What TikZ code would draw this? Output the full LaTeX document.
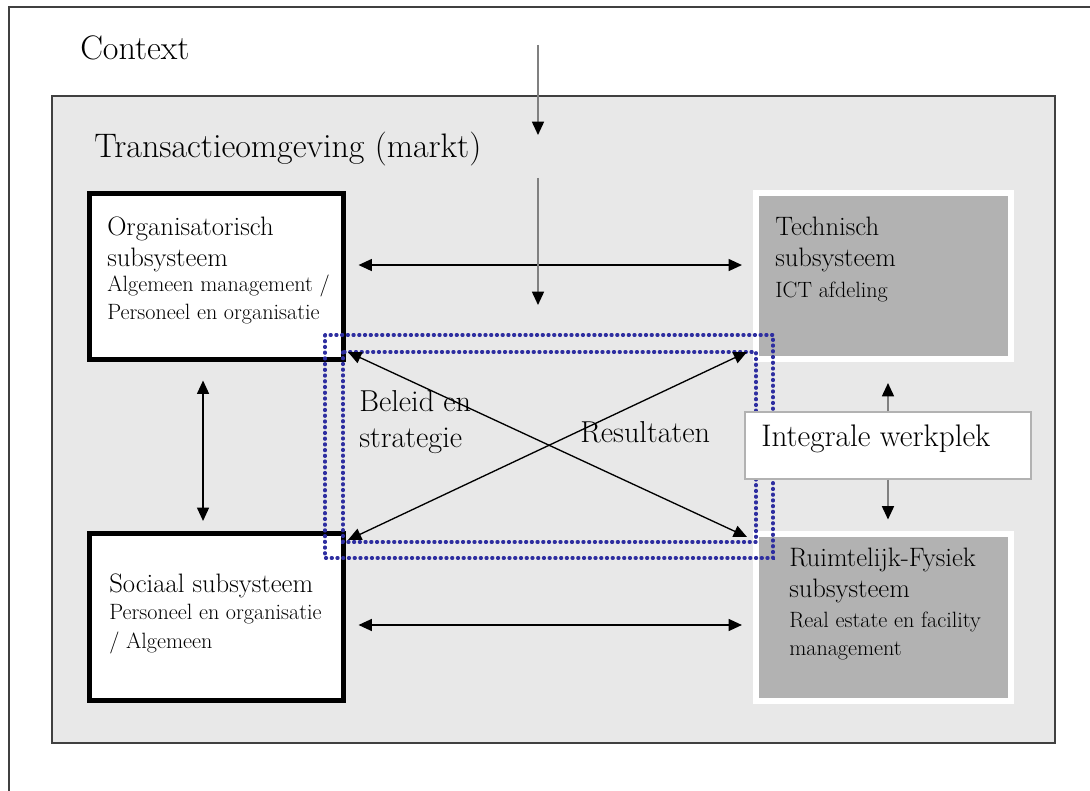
\documentclass[tikz,border=0pt]{standalone}
\usepackage{tikz}
\usetikzlibrary{arrows.meta,positioning}
\definecolor{bggray}{HTML}{E8E8E8}
\definecolor{boxgray}{HTML}{B2B2B2}
\definecolor{framegray}{HTML}{404040}
\definecolor{dotblue}{HTML}{2E2EA0}
\tikzset{
  subsys/.style={rectangle,draw=black,fill=white,line width=3.75pt,
    minimum width=190.5pt,minimum height=124.5pt,inner sep=0pt},
  techsys/.style={rectangle,draw=white,fill=boxgray,line width=4.5pt,
    minimum width=191.25pt,minimum height=124.5pt,inner sep=0pt},
  wpbox/.style={rectangle,draw=gray!60,fill=white,line width=1pt,
    minimum width=214.5pt,minimum height=50.25pt,inner sep=0pt},
  title/.style={anchor=base west,inner sep=0pt,align=left,
    font=\fontsize{20}{23.5}\selectfont},
  subtitle/.style={anchor=base west,inner sep=0pt,align=left,
    font=\fontsize{16.6}{21}\selectfont},
  big/.style={anchor=base west,inner sep=0pt,align=left,
    font=\fontsize{25.5}{30}\selectfont},
  middle/.style={anchor=base west,inner sep=0pt,align=left,
    font=\fontsize{22.7}{27}\selectfont},
  link/.style={{Triangle[length=10pt,width=9pt]}-{Triangle[length=10pt,width=9pt]},
    line width=1pt},
  feed/.style={-{Triangle[length=10pt,width=9pt,black]},draw=gray,line width=1.2pt},
  dotframe/.style={draw=dotblue,line width=2.5pt,line cap=round,
    dash pattern=on 0.7pt off 3.6pt}
}

\begin{document}
\begin{tikzpicture}[x=0.75pt,y=-0.75pt]
  \useasboundingbox (0,0) rectangle (1090,791);
  % context and market
  \draw[framegray,line width=1.2pt] (9,7) rectangle (1110,820);
  \draw[framegray,fill=bggray,line width=1.2pt] (52,96) rectangle (1055,743);
  \node[big] (context) at (80,60) {Context};
  \node[big] (market) at (94,158) {Transactieomgeving (markt)};

  % subsystems
  \node[subsys] (org) at (216.5,276.5) {};
  \node[subsys] (soc) at (216.5,617) {};
  \node[techsys] (tech) at (883.5,276.5) {};
  \node[techsys] (ruim) at (883.5,617.5) {};

  \node[title] (orgtitle) at (107,267) {Organisatorisch\\subsysteem};
  \node[subtitle] (orgsub) at (107,320) {Algemeen management /\\Personeel en organisatie};
  \node[title] (soctitle) at (109,593) {Sociaal subsysteem};
  \node[subtitle] (socsub) at (109,648) {Personeel en organisatie\\/ Algemeen};
  \node[title] (techtitle) at (775,267) {Technisch\\subsysteem};
  \node[subtitle] (techsub) at (775,298) {ICT afdeling};
  \node[title] (ruimtitle) at (789,598) {Ruimtelijk-Fysiek\\subsysteem};
  \node[subtitle] (ruimsub) at (789,656) {Real estate en facility\\management};

  % policy and results
  \draw[dotframe] (325,335) rectangle (773,558);
  \draw[dotframe] (343,352) rectangle (756,542);
  \coordinate (ul) at (348,352);
  \coordinate (ur) at (747,352);
  \coordinate (ll) at (348,540);
  \coordinate (lr) at (747,537);
  \draw[link] (ul) -- (lr);
  \draw[link] (ll) -- (ur);
  \node[middle] (policy) at (359,448) {Beleid en\\strategie};
  \node[middle] (results) at (580,443) {Resultaten};

  % workplace
  \node[wpbox] (wp) at (888,445.5) {};
  \node[big,font=\fontsize{23.4}{28}\selectfont] (wptext) at (761,447) {Integrale werkplek};

  % relations
  \draw[link,shorten <=9.4pt,shorten >=8.3pt] ([yshift=8.6pt]org.east) -- ([yshift=8.6pt]org.east -| tech.west);
  \draw[link,shorten <=9.4pt,shorten >=8.3pt] ([yshift=-6pt]soc.east) -- ([yshift=-6pt]soc.east -| ruim.west);
  \draw[link,shorten <=13.9pt,shorten >=7.9pt] ([xshift=-10.1pt]org.south) -- ([xshift=-10.1pt]soc.north);
  \draw[feed,shorten >=15.4pt] (wp.north) -- (wp.north |- tech.south);
  \draw[feed,shorten >=9pt] (wp.south) -- (wp.south |- ruim.north);

  % from outside in
  \coordinate (ctxtop) at (538,45);
  \coordinate (ctxbot) at (538,135);
  \coordinate (mkttop) at (538,178);
  \coordinate (mktbot) at (538,305);
  \draw[feed] (ctxtop) -- (ctxbot);
  \draw[feed] (mkttop) -- (mktbot);
\end{tikzpicture}
\end{document}
